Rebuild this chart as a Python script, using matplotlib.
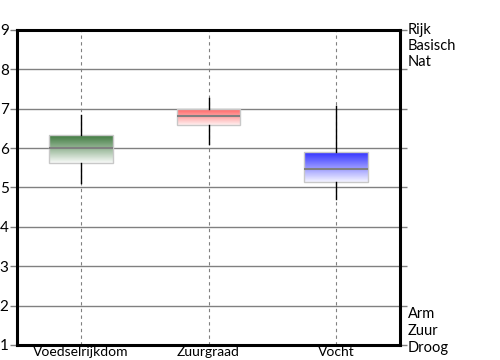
import numpy as np
import matplotlib.pyplot as plt
from matplotlib.colors import LinearSegmentedColormap

plt.rcParams['font.family'] = ['Lato', 'DejaVu Sans']

categories = ['Voedselrijkdom', 'Zuurgraad', 'Vocht']
q1 = [5.63, 6.58, 5.15]
median = [6.01, 6.81, 5.48]
q3 = [6.34, 7.00, 5.91]
whis_lo = [5.11, 6.10, 4.70]
whis_hi = [6.84, 7.28, 7.07]
top_colors = ['#3f7a3f', '#ff5c5c', '#3333ff']
bottom_colors = ['#f8faf8', '#fff0f0', '#f4f4ff']

high_labels = ['Rijk', 'Basisch', 'Nat']
low_labels = ['Arm', 'Zuur', 'Droog']

fig = plt.figure(figsize=(5, 3.6), dpi=100)
ax = fig.add_axes([0.034, 0.0417, 0.766, 0.875])

positions = np.arange(len(categories)) + 0.5
stats = []
for i, name in enumerate(categories):
    stats.append({'label': name, 'med': median[i], 'q1': q1[i], 'q3': q3[i],
                  'whislo': whis_lo[i], 'whishi': whis_hi[i], 'fliers': []})

bp = ax.bxp(stats, positions=positions, widths=0.5, patch_artist=True,
            showcaps=False, showfliers=False,
            boxprops=dict(facecolor='none', edgecolor='#c8c8c8', linewidth=1),
            medianprops=dict(color='#808080', linewidth=1.5),
            whiskerprops=dict(color='black', linewidth=1.0))

# gradient fill inside each box
for i, box in enumerate(bp['boxes']):
    cmap = LinearSegmentedColormap.from_list('g', [bottom_colors[i], top_colors[i]])
    grad = np.linspace(1, 0, 100).reshape(-1, 1)
    im = ax.imshow(grad, cmap=cmap, aspect='auto', vmin=0, vmax=1,
                   extent=[positions[i] - 0.25, positions[i] + 0.25, q1[i], q3[i]],
                   zorder=box.get_zorder() - 0.1)
    im.set_clip_path(box)

ax.set_xlim(0, 3)
ax.set_ylim(1, 9)
ax.set_xticks(positions)
ax.set_xticklabels(categories, fontsize=10)
ax.set_yticks(range(1, 10))
ax.set_yticks(np.arange(1, 9, 0.25), minor=True)
ax.tick_params(axis='y', which='major', length=5, width=1, color='#808080',
               labelsize=11, pad=1, right=True, direction='out')
ax.tick_params(axis='y', which='minor', length=2, width=1, color='#808080',
               right=True, direction='inout')
ax.tick_params(axis='x', length=0, pad=0.5)

ax.grid(axis='y', color='#808080', linewidth=1)
ax.grid(axis='x', color='#808080', linewidth=0.8, linestyle=(0, (3, 3)))
ax.set_axisbelow(True)

for sp in ax.spines.values():
    sp.set_linewidth(2.2)
    sp.set_zorder(5)

for j, lab in enumerate(high_labels):
    ax.text(1.02, 9 - j * 0.41, lab, transform=ax.get_yaxis_transform(),
            fontsize=10.5, va='center', ha='left', clip_on=False)
for j, lab in enumerate(low_labels):
    ax.text(1.02, 1.78 - j * 0.43, lab, transform=ax.get_yaxis_transform(),
            fontsize=10.5, va='center', ha='left', clip_on=False)

fig.savefig('out.png', dpi=100)
